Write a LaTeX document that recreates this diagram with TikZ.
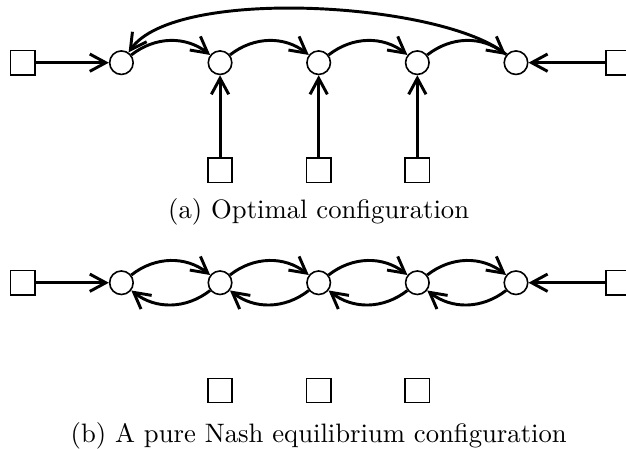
\documentclass[tikz,border=0pt]{standalone}
\usepackage{amsmath,amssymb}
\usetikzlibrary{shapes,arrows.meta}

\begin{document}
\begin{tikzpicture}[>={Straight Barb[length=6pt,width=6.5pt]}]
\tikzstyle{peer}=[draw,circle,line width=0.6pt,inner sep=0,minimum size=0.31cm]
\tikzstyle{src}=[draw,rectangle,line width=0.6pt,inner sep=0,minimum size=0.32cm]
\tikzstyle{link}=[->,line width=1.1pt]
\useasboundingbox (0,0.826) rectangle (8.25,-5.091);
\begin{scope}
\node[peer] (c1) at (1.6,0) {};
\node[peer] (c2) at (2.9,0) {};
\node[peer] (c3) at (4.2,0) {};
\node[peer] (c4) at (5.5,0) {};
\node[peer] (c5) at (6.8,0) {};
\node[src] (l) at (0.3,0) {};
\node[src] (r) at (8.15,0) {};
\node[src] (b2) at (2.9,-1.42) {};
\node[src] (b3) at (4.2,-1.42) {};
\node[src] (b4) at (5.5,-1.42) {};
\draw[link] (l) -- (c1);
\draw[link] (r) -- (c5);
\draw[link] (b2) -- (c2);
\draw[link] (b3) -- (c3);
\draw[link] (b4) -- (c4);
\draw[link] (c1) to[bend left=38] (c2);
\draw[link] (c2) to[bend left=38] (c3);
\draw[link] (c3) to[bend left=38] (c4);
\draw[link] (c4) to[bend left=38] (c5);
\draw[link] (c5) to[out=140,in=55,looseness=0.55] (c1);
\node (capA) at (4.2,-1.96) {(a) Optimal configuration};
\end{scope}
\begin{scope}[yshift=-2.9cm]
\node[peer] (c1) at (1.6,0) {};
\node[peer] (c2) at (2.9,0) {};
\node[peer] (c3) at (4.2,0) {};
\node[peer] (c4) at (5.5,0) {};
\node[peer] (c5) at (6.8,0) {};
\node[src] (l) at (0.3,0) {};
\node[src] (r) at (8.15,0) {};
\node[src] (b2) at (2.9,-1.42) {};
\node[src] (b3) at (4.2,-1.42) {};
\node[src] (b4) at (5.5,-1.42) {};
\draw[link] (l) -- (c1);
\draw[link] (r) -- (c5);
\draw[link] (c1) to[bend left=38] (c2);
\draw[link] (c2) to[bend left=38] (c1);
\draw[link] (c2) to[bend left=38] (c3);
\draw[link] (c3) to[bend left=38] (c2);
\draw[link] (c3) to[bend left=38] (c4);
\draw[link] (c4) to[bend left=38] (c3);
\draw[link] (c4) to[bend left=38] (c5);
\draw[link] (c5) to[bend left=38] (c4);
\node (capB) at (4.2,-2.02) {(b) A pure Nash equilibrium configuration};
\end{scope}
\end{tikzpicture}
\end{document}
